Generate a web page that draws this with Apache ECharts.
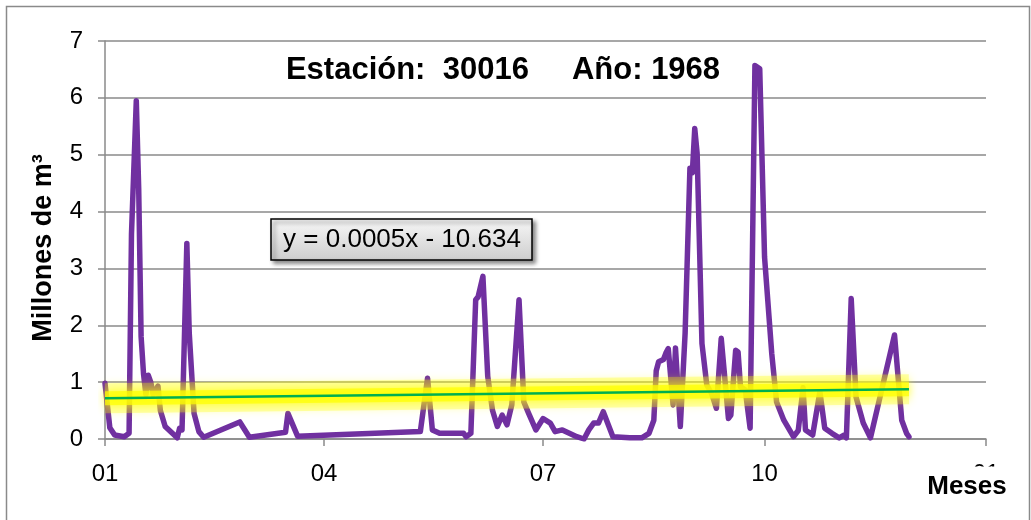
<!DOCTYPE html>
<html><head><meta charset="utf-8">
<script src="https://cdn.jsdelivr.net/npm/echarts@6/dist/echarts.min.js"></script>
<style>html,body{margin:0;padding:0;background:#fff}#c{width:1031px;height:520px}</style>
</head><body><div id="c"></div>
<script>
// Día del año (0 = 1 de enero de 1968)
const dias = [0,2,4,8,10,11,13,14,15,16,17,18,19,20,22,23,25,28,30,31,32,34,35,37,39,41,56,60,75,76,80,131,134,136,139,149,150,152,154,155,157,159,161,163,165,167,169,172,174,176,179,182,185,187,190,196,199,201,203,205,207,211,218,223,226,228,229,230,232,233,234,236,237,239,241,243,244,245,246,248,250,252,254,256,259,260,262,263,264,266,268,270,272,274,277,279,282,286,288,290,291,294,297,299,302,305,307,308,310,312,315,318,328,329,331,333,334];
// Millones de m3
const caudal = [0.98,0.2,0.07,0.04,0.1,3.6,5.95,4.4,1.8,1.15,0.78,1.12,1.0,0.78,0.93,0.5,0.22,0.1,0.02,0.19,0.16,3.44,1.86,0.45,0.13,0.03,0.3,0.03,0.12,0.45,0.05,0.13,1.07,0.16,0.1,0.1,0.04,0.1,2.45,2.5,2.86,1.1,0.5,0.22,0.42,0.25,0.6,2.45,0.65,0.45,0.16,0.36,0.28,0.13,0.16,0.04,0.0,0.16,0.28,0.28,0.48,0.04,0.02,0.02,0.1,0.33,1.2,1.36,1.4,1.51,1.59,0.6,1.6,0.22,1.86,4.76,4.68,5.46,5.02,1.68,0.95,0.8,0.54,1.77,0.36,0.42,1.56,1.53,0.92,0.86,0.19,6.57,6.51,3.2,1.5,0.65,0.33,0.04,0.15,0.9,0.16,0.07,0.83,0.19,0.1,0.02,0.07,0.02,2.47,0.74,0.28,0.02,1.83,1.33,0.33,0.1,0.04];
const tendenciaDias = [0, 334];
const tendenciaValores = [0.715, 0.875];
const marcasDias = [0, 91, 182, 274, 366];
const etiquetasMes = ['01', '04', '07', '10', '01'];
const titulo = 'Estación:  30016     Año: 1968';
const ecuacion = 'y = 0.0005x - 10.634';

const FONT = "'Liberation Sans', Arial, sans-serif";
const GRIS = '#8a8a8a';
const serie = dias.map((d, i) => [d, caudal[i]]);
const tendencia = tendenciaDias.map((d, i) => [d, tendenciaValores[i]]);

const chart = echarts.init(document.getElementById('c'), null, {renderer: 'canvas'});
chart.setOption({
  animation: false,
  backgroundColor: '#fff',
  grid: {left: 105, right: 45, top: 41, bottom: 81},
  xAxis: {
    type: 'value', min: 0, max: 366,
    axisLine: {show: true, lineStyle: {color: GRIS, width: 1.5}},
    axisTick: {show: true, customValues: marcasDias, length: 7, lineStyle: {color: GRIS, width: 1.5}},
    axisLabel: {
      customValues: marcasDias,
      formatter: v => etiquetasMes[marcasDias.indexOf(v)],
      margin: 23, fontSize: 24, color: '#000', fontFamily: FONT
    },
    splitLine: {show: false}
  },
  yAxis: {
    type: 'value', min: 0, max: 7, interval: 1,
    axisLine: {show: true, lineStyle: {color: GRIS, width: 1.5}},
    axisTick: {show: true, length: 7, lineStyle: {color: GRIS, width: 1.5}},
    axisLabel: {margin: 22, fontSize: 24, color: '#000', fontFamily: FONT},
    splitLine: {show: true, lineStyle: {color: GRIS, width: 1.5}}
  },
  series: [
    {type: 'line', data: serie, showSymbol: false, z: 2, silent: true,
     lineStyle: {color: '#7030A0', width: 5.5, join: 'round', cap: 'round'}},
    {type: 'line', data: tendencia, showSymbol: false, z: 3, silent: true,
     lineStyle: {color: 'rgba(255,255,0,0.3)', width: 30, cap: 'butt',
                 shadowBlur: 8, shadowColor: 'rgba(255,255,0,0.6)'}},
    {type: 'line', data: tendencia, showSymbol: false, z: 3, silent: true,
     lineStyle: {color: 'rgba(255,255,0,0.7)', width: 14, cap: 'butt',
                 shadowBlur: 10, shadowColor: 'rgba(255,255,0,1)'}},
    {type: 'line', data: tendencia, showSymbol: false, z: 4, silent: true,
     lineStyle: {color: '#00B050', width: 2.5}}
  ],
  graphic: [
    {type: 'rect', z: 0, shape: {x: 6.5, y: 6.5, width: 1023, height: 530},
     style: {fill: 'none', stroke: GRIS, lineWidth: 1.5}},
    {type: 'text', z: 50, x: 503, y: 70,
     style: {text: titulo, textAlign: 'center', textVerticalAlign: 'middle',
             fontSize: 31, fontWeight: 'bold', fontFamily: FONT, fill: '#000'}},
    {type: 'text', z: 50, x: 44, y: 248, rotation: Math.PI / 2,
     style: {text: 'Millones de m³', textAlign: 'center', textVerticalAlign: 'middle',
             fontSize: 27, fontWeight: 'bold', fontFamily: FONT, fill: '#000'}},
    {type: 'rect', z: 50, shape: {x: 271, y: 219, width: 261, height: 41},
     style: {fill: {type: 'linear', x: 0, y: 0, x2: 0, y2: 1,
                    colorStops: [{offset: 0, color: '#f8f8f8'}, {offset: 1, color: '#cdcdcd'}]},
             stroke: '#000', lineWidth: 1.5,
             shadowBlur: 4, shadowOffsetX: 3, shadowOffsetY: 3, shadowColor: 'rgba(0,0,0,0.45)'}},
    {type: 'text', z: 51, x: 402, y: 240,
     style: {text: ecuacion, textAlign: 'center', textVerticalAlign: 'middle',
             fontSize: 26, fontFamily: FONT, fill: '#000'}},
    {type: 'text', z: 100, x: 967, y: 487,
     style: {text: 'Meses', textAlign: 'center', textVerticalAlign: 'middle',
             fontSize: 26, fontWeight: 'bold', fontFamily: FONT, fill: '#000',
             backgroundColor: '#fff', padding: [12, 12, 3, 12]}}
  ]
});
</script>
</body></html>
